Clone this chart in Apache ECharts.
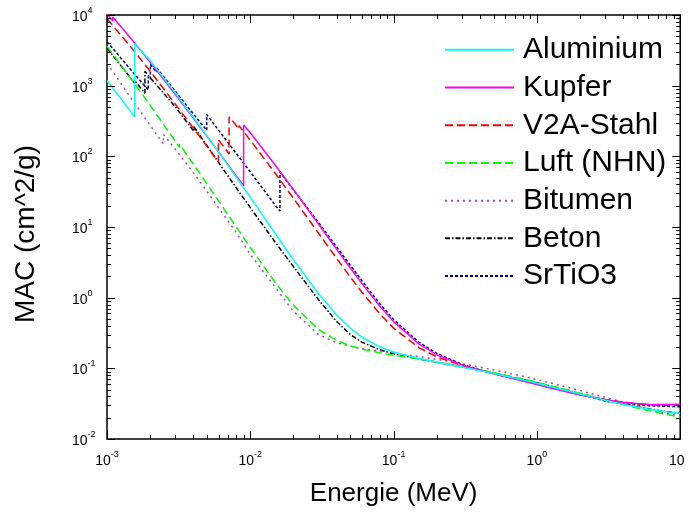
<!DOCTYPE html>
<html>
<head>
<meta charset="utf-8">
<script src="https://cdn.jsdelivr.net/npm/echarts@6/dist/echarts.min.js"></script>
<style>html,body{margin:0;padding:0;background:#fff}#chart{width:691px;height:514px}</style>
</head>
<body>
<div id="chart"></div>
<script>
// ---- Data (energy in MeV, mass attenuation coefficient in cm^2/g) ----
const seriesNames = ['Aluminium', 'Kupfer', 'V2A-Stahl', 'Luft (NHN)', 'Bitumen', 'Beton', 'SrTiO3'];

const alE = [0.001, 0.0015, 0.0015596, 0.0015596, 0.002, 0.003, 0.004, 0.005, 0.006, 0.008, 0.01, 0.015, 0.02, 0.03, 0.04, 0.05, 0.06, 0.08, 0.1, 0.15, 0.2, 0.3, 0.4, 0.5, 0.6, 0.8, 1, 1.25, 1.5, 2, 3, 4, 5, 6, 8, 10];
const alV = [1185, 402.2, 362.1, 3957, 2263, 788.0, 360.5, 193.4, 115.3, 50.33, 26.23, 7.955, 3.441, 1.128, 0.5685, 0.3681, 0.2778, 0.2018, 0.1704, 0.1378, 0.1223, 0.1042, 0.09276, 0.08445, 0.07802, 0.06841, 0.06146, 0.05496, 0.05006, 0.04324, 0.03541, 0.03106, 0.02836, 0.02655, 0.02437, 0.02318];

const cuE = [0.001, 0.00104695, 0.0010961, 0.0010961, 0.0015, 0.002, 0.003, 0.004, 0.005, 0.006, 0.008, 0.0089789, 0.0089789, 0.01, 0.015, 0.02, 0.03, 0.04, 0.05, 0.06, 0.08, 0.1, 0.15, 0.2, 0.3, 0.4, 0.5, 0.6, 0.8, 1, 1.25, 1.5, 2, 3, 4, 5, 6, 8, 10];
const cuV = [10570, 9307, 8242, 9347, 4418, 2154, 748.8, 347.3, 189.9, 115.6, 52.55, 38.29, 278.4, 215.9, 74.05, 33.79, 10.92, 4.862, 2.613, 1.593, 0.763, 0.4584, 0.2217, 0.1559, 0.1119, 0.09413, 0.08362, 0.07625, 0.06605, 0.05901, 0.05261, 0.04803, 0.04205, 0.03599, 0.03318, 0.03177, 0.03108, 0.03074, 0.03103];

const stE = [0.001, 0.0015, 0.002, 0.003, 0.004, 0.005, 0.005989, 0.005989, 0.007112, 0.007112, 0.008, 0.008333, 0.008333, 0.01, 0.015, 0.02, 0.03, 0.04, 0.05, 0.06, 0.08, 0.1, 0.15, 0.2, 0.3, 0.4, 0.5, 0.6, 0.8, 1, 1.25, 1.5, 2, 3, 4, 5, 6, 8, 10];
const stV = [8860, 3347, 1599, 547, 251.8, 137.1, 83.4, 172, 107.8, 364, 271.4, 243, 271.7, 169.2, 56.6, 25.5, 8.11, 3.60, 1.944, 1.198, 0.5935, 0.3707, 0.1967, 0.1455, 0.1098, 0.0939, 0.0840, 0.0769, 0.0669, 0.0599, 0.0535, 0.0488, 0.0426, 0.0362, 0.0331, 0.0315, 0.0306, 0.0300, 0.0300];

const airE = [0.001, 0.0015, 0.002, 0.003, 0.0032029, 0.0032029, 0.004, 0.005, 0.006, 0.008, 0.01, 0.015, 0.02, 0.03, 0.04, 0.05, 0.06, 0.08, 0.1, 0.15, 0.2, 0.3, 0.4, 0.5, 0.6, 0.8, 1, 1.25, 1.5, 2, 3, 4, 5, 6, 8, 10];
const airV = [3606, 1191, 527.9, 162.5, 134.0, 148.5, 77.88, 40.27, 23.41, 9.921, 5.120, 1.614, 0.7779, 0.3538, 0.2485, 0.2080, 0.1875, 0.1662, 0.1541, 0.1356, 0.1233, 0.1067, 0.09549, 0.08712, 0.08055, 0.07074, 0.06358, 0.05687, 0.05175, 0.04447, 0.03581, 0.03079, 0.02751, 0.02522, 0.02225, 0.02045];

const bitE = [0.001, 0.0015, 0.002, 0.002472, 0.002472, 0.003, 0.004, 0.005, 0.006, 0.008, 0.01, 0.015, 0.02, 0.03, 0.04, 0.05, 0.06, 0.08, 0.1, 0.15, 0.2, 0.3, 0.4, 0.5, 0.6, 0.8, 1, 1.5, 2, 3, 4, 5, 6, 8, 10];
const bitV = [2070, 630, 275, 150, 205, 126, 59, 31.5, 18.8, 8.3, 4.1, 1.38, 0.64, 0.30, 0.23, 0.205, 0.19, 0.176, 0.165, 0.147, 0.134, 0.116, 0.104, 0.0949, 0.0878, 0.0771, 0.0694, 0.0565, 0.0484, 0.0388, 0.0331, 0.0293, 0.0266, 0.0231, 0.0209];

const betE = [0.001, 0.0015, 0.0015596, 0.0015596, 0.0018389, 0.0018389, 0.002, 0.003, 0.004038, 0.004038, 0.005, 0.006, 0.008, 0.01, 0.015, 0.02, 0.03, 0.04, 0.05, 0.06, 0.08, 0.1, 0.15, 0.2, 0.3, 0.4, 0.5, 0.6, 0.8, 1, 1.5, 2, 3, 4, 5, 6, 8, 10];
const betV = [3400, 1200, 1080, 1180, 780, 1600, 1300, 500, 225, 262, 140, 82, 35.5, 18.8, 6.0, 2.75, 0.93, 0.46, 0.30, 0.235, 0.183, 0.160, 0.136, 0.122, 0.105, 0.0937, 0.0855, 0.0790, 0.0694, 0.0624, 0.0508, 0.0438, 0.0358, 0.0313, 0.0286, 0.0267, 0.0244, 0.0232];

const srE = [0.001, 0.0015, 0.00194, 0.00194, 0.002007, 0.002007, 0.002216, 0.002216, 0.003, 0.004, 0.004966, 0.004966, 0.006, 0.008, 0.01, 0.015, 0.0161, 0.0161, 0.02, 0.03, 0.04, 0.05, 0.06, 0.08, 0.1, 0.15, 0.2, 0.3, 0.4, 0.5, 0.6, 0.8, 1, 1.5, 2, 3, 4, 5, 6, 8, 10];
const srV = [4200, 1590, 870, 1350, 1240, 2000, 1550, 1800, 830, 400, 233, 390, 235, 109, 60.2, 20.1, 16.8, 60, 33.5, 11.5, 5.2, 2.85, 1.74, 0.82, 0.49, 0.235, 0.163, 0.114, 0.0955, 0.0847, 0.0772, 0.0669, 0.0597, 0.0487, 0.0427, 0.0344, 0.0316, 0.0303, 0.0296, 0.0290, 0.0285];

// ---- Axis ticks ----
const xMajorTicks = [0.001, 0.01, 0.1, 1, 10];
const yMajorTicks = [0.01, 0.1, 1, 10, 100, 1000, 10000];
const minorMultipliers = [2, 3, 4, 5, 6, 7, 8, 9];

const FONT = 'Liberation Sans, Arial, sans-serif';
const pairs = (xs, ys) => xs.map((x, i) => [x, ys[i]]);

const styles = [
  { color: '#00FFFF', type: 'solid' },
  { color: '#FF00FF', type: 'solid' },
  { color: '#FF0000', type: [8, 4] },
  { color: '#00FF00', type: [8, 4] },
  { color: '#B040C0', type: [2, 4] },
  { color: '#000000', type: [5, 2, 1.5, 2] },
  { color: '#000080', type: [3, 2] }
];
const dataSets = [pairs(alE, alV), pairs(cuE, cuV), pairs(stE, stV), pairs(airE, airV), pairs(bitE, bitV), pairs(betE, betV), pairs(srE, srV)];

const lineSeries = seriesNames.map((name, i) => ({
  name: name,
  type: 'line',
  data: dataSets[i],
  symbol: 'none',
  clip: true,
  lineStyle: { color: styles[i].color, width: 1.5, type: styles[i].type },
  itemStyle: { color: styles[i].color },
  z: 10 - i
}));

// tick marks (inward, on all four sides)
const tickData = [];
xMajorTicks.forEach(v => tickData.push([v, 1, 0, 8]));
xMajorTicks.slice(0, -1).forEach(d => minorMultipliers.forEach(m => tickData.push([d * m, 1, 0, 4])));
yMajorTicks.forEach(v => tickData.push([1, v, 1, 8]));
yMajorTicks.slice(0, -1).forEach(d => minorMultipliers.forEach(m => tickData.push([1, d * m, 1, 4])));

const tickSeries = {
  type: 'custom',
  silent: true,
  z: 20,
  encode: { x: 0, y: 1 },
  data: tickData,
  renderItem: function (params, api) {
    const cs = params.coordSys;
    const pt = api.coord([api.value(0), api.value(1)]);
    const kind = api.value(2);
    const len = api.value(3);
    const st = { stroke: '#000', lineWidth: 1 };
    if (kind === 0) {
      const x = Math.round(pt[0]) + 0.5;
      const b = cs.y + cs.height, t = cs.y;
      return { type: 'group', children: [
        { type: 'line', shape: { x1: x, y1: b, x2: x, y2: b - len }, style: st },
        { type: 'line', shape: { x1: x, y1: t, x2: x, y2: t + len }, style: st }
      ]};
    } else {
      const y = Math.round(pt[1]) + 0.5;
      const l = cs.x, r = cs.x + cs.width;
      return { type: 'group', children: [
        { type: 'line', shape: { x1: l, y1: y, x2: l + len, y2: y }, style: st },
        { type: 'line', shape: { x1: r, y1: y, x2: r - len, y2: y }, style: st }
      ]};
    }
  }
};

const richLabel = {
  b: { fontSize: 14, fontFamily: FONT, color: '#000', lineHeight: 18, verticalAlign: 'bottom' },
  s: { fontSize: 9, fontFamily: FONT, color: '#000', lineHeight: 10, verticalAlign: 'top' },
  p: { width: 7 }
};
const powLabel = v => {
  const e = Math.round(Math.log10(v));
  return '{b|10}{s|' + e + '}';
};

const chart = echarts.init(document.getElementById('chart'), null, { renderer: 'canvas' });
chart.setOption({
  animation: false,
  backgroundColor: '#fff',
  grid: { left: 107, right: 7, top: 15, bottom: 75, show: true, borderColor: '#000', borderWidth: 1.5, backgroundColor: 'transparent' },
  legend: {
    orient: 'vertical',
    left: 439,
    top: 26,
    itemWidth: 69,
    itemHeight: 14,
    itemGap: 0,
    selectedMode: false,
    data: seriesNames,
    itemStyle: { opacity: 0 },
    textStyle: { fontSize: 30, fontFamily: FONT, color: '#000', lineHeight: 37.7, padding: [0, 0, 0, 4] }
  },
  xAxis: {
    type: 'log',
    logBase: 10,
    min: 0.001,
    max: 10,
    name: 'Energie (MeV)',
    nameLocation: 'middle',
    nameGap: 42,
    nameTextStyle: { fontSize: 26, fontFamily: FONT, color: '#000' },
    axisLine: { show: false },
    axisTick: { show: false },
    splitLine: { show: false },
    minorTick: { show: false },
    axisLabel: {
      margin: 11,
      showMinLabel: true,
      showMaxLabel: true,
      formatter: v => {
        const e = Math.round(Math.log10(v));
        return e === 1 ? '{b|10}{p|}' : '{b|10}{s|' + e + '}';
      },
      rich: richLabel
    }
  },
  yAxis: {
    type: 'log',
    logBase: 10,
    min: 0.01,
    max: 10000,
    name: 'MAC (cm^2/g)',
    nameLocation: 'middle',
    nameGap: 67,
    nameRotate: 90,
    nameTextStyle: { fontSize: 28, fontFamily: FONT, color: '#000', padding: [0, 14, 0, 0] },
    axisLine: { show: false },
    axisTick: { show: false },
    splitLine: { show: false },
    axisLabel: {
      margin: 35,
      align: 'left',
      showMinLabel: true,
      showMaxLabel: true,
      formatter: powLabel,
      rich: richLabel
    }
  },
  series: lineSeries.concat([tickSeries])
});
</script>
</body>
</html>
